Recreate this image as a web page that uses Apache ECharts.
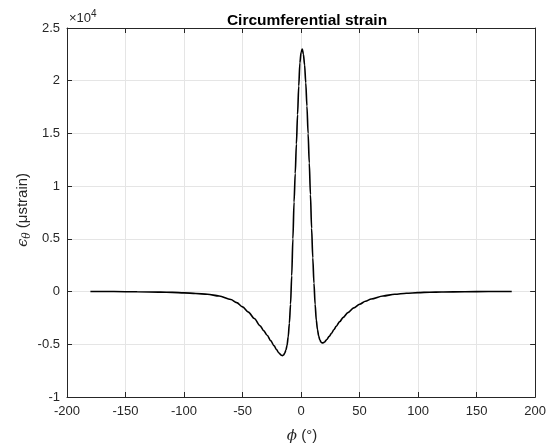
<!DOCTYPE html>
<html>
<head>
<meta charset="utf-8">
<script src="https://cdn.jsdelivr.net/npm/echarts@6/dist/echarts.min.js"></script>
<style>html,body{margin:0;padding:0;background:#fff}#c{width:549px;height:446px}</style>
</head>
<body>
<div id="c"></div>
<script>
// phi in degrees
var phi = [-180,-160,-140,-120,-110,-100,-90,-80,-70,-60,-55,-50,-45,-40,-35,-32,-29,-26,-23,-21,-19,-17,-16,-15,-14,-13,-12,-11,-10,-9,-8,-7,-6,-5,-4,-3,-2,-1,0,1,2,3,4,5,6,7,8,9,10,11,12,13,14,15,16,17,18,19,20,22,24,26,28,30,33,36,40,45,50,55,60,70,80,90,100,110,120,140,160,180];
// strain in units of 1e4 microstrain
var strain = [0,0,-0.002,-0.005,-0.008,-0.012,-0.018,-0.026,-0.042,-0.075,-0.105,-0.145,-0.195,-0.255,-0.325,-0.37,-0.415,-0.465,-0.515,-0.55,-0.582,-0.603,-0.608,-0.602,-0.585,-0.556,-0.51,-0.43,-0.3,-0.12,0.15,0.5,0.85,1.12,1.4,1.68,1.95,2.17,2.27,2.3,2.25,2.15,1.98,1.76,1.5,1.22,0.92,0.6,0.32,0.08,-0.12,-0.27,-0.36,-0.42,-0.458,-0.478,-0.487,-0.486,-0.478,-0.455,-0.425,-0.395,-0.362,-0.33,-0.285,-0.245,-0.2,-0.155,-0.12,-0.092,-0.07,-0.042,-0.026,-0.016,-0.01,-0.006,-0.004,-0.001,0,0];
var titleText = 'Circumferential strain';

var pts = phi.map(function(p,i){return [p, strain[i]];});
var FONT = '"Liberation Sans", Arial, Helvetica, sans-serif';
var axCol = '#262626';
var chart = echarts.init(document.getElementById('c'), null, {renderer:'canvas'});
var baseAxis = {
  axisLine:{show:true,onZero:false,lineStyle:{color:axCol,width:1}},
  axisTick:{show:true,inside:true,length:5,lineStyle:{color:axCol}},
  splitLine:{show:true,lineStyle:{color:'#e5e5e5',width:1}},
  axisLabel:{color:axCol,fontFamily:FONT,fontSize:13}
};
function mk(extra){return Object.assign({}, JSON.parse(JSON.stringify(baseAxis)), extra);}
chart.setOption({
  animation:false,
  backgroundColor:'#fff',
  grid:{left:67,right:12,top:28,bottom:49,containLabel:false},
  title:{text:titleText,left:302,top:8,textAlign:'center',textStyle:{fontFamily:FONT,fontSize:15.5,fontWeight:'bold',color:'#000'}},
  xAxis:[
    mk({type:'value',position:'bottom',min:-200,max:200,interval:50,axisLabel:{color:axCol,fontFamily:FONT,fontSize:13,margin:8}}),
    mk({type:'value',position:'top',min:-200,max:200,interval:50,axisLabel:{show:false},splitLine:{show:false}})
  ],
  yAxis:[
    mk({type:'value',position:'left',min:-1,max:2.5,interval:0.5,axisLabel:{color:axCol,fontFamily:FONT,fontSize:13,margin:7}}),
    mk({type:'value',position:'right',min:-1,max:2.5,interval:0.5,axisLabel:{show:false},splitLine:{show:false}})
  ],
  graphic:[
    {type:'text',left:69,top:9,style:{text:'×10{s|4}',fill:axCol,font:'13px '+FONT,rich:{s:{fontSize:10,fontFamily:FONT,verticalAlign:'top',padding:[0,0,8,0],fill:axCol}}}},
    {type:'text',x:302,y:436,style:{text:'{i|ϕ} (°)',fill:axCol,font:'15px '+FONT,align:'center',verticalAlign:'middle',rich:{i:{fontFamily:'"DejaVu Serif", serif',fontStyle:'italic',fontSize:15,fill:axCol}}}},
    {type:'text',x:23,y:210,rotation:Math.PI/2,style:{text:'{i|ϵ}{s|θ} (μstrain)',fill:axCol,font:'15px '+FONT,align:'center',verticalAlign:'middle',rich:{i:{fontFamily:'"DejaVu Serif", serif',fontStyle:'italic',fontSize:15,fill:axCol},s:{fontFamily:'"DejaVu Serif", serif',fontStyle:'italic',fontSize:10.5,fill:axCol,padding:[8,0,0,0]}}}}
  ],
  series:[{type:'line',data:pts,showSymbol:false,smooth:0.3,smoothMonotone:'x',lineStyle:{color:'#000',width:1.6},xAxisIndex:0,yAxisIndex:0}]
});
</script>
</body>
</html>
